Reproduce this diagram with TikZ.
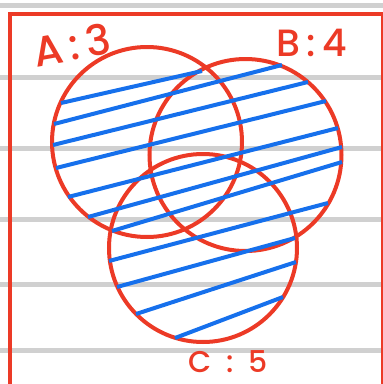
\documentclass[tikz,border=0pt]{standalone}
\usepackage{fontspec}
\newfontfamily\handfont{Poppins}[BoldFont={Poppins Medium}]
\usetikzlibrary{positioning}
\definecolor{penred}{RGB}{236,58,38}
\definecolor{penblue}{RGB}{22,112,236}
\definecolor{ruled}{RGB}{208,208,208}

\begin{document}
\begin{tikzpicture}[x=1pt, y=-1pt,
    setcircle/.style={circle, draw=penred, line width=4pt, minimum size=#1, inner sep=0pt},
    hatch/.style={draw=penblue, line width=4pt},
    ruleline/.style={draw=ruled, line width=5pt},
    setlabel/.style={text=penred, inner sep=0pt, font=\handfont\bfseries\fontsize{#1}{#1}\selectfont}]
    \useasboundingbox (0,0) rectangle (383,384);
    \clip (0,0) rectangle (383,384);

    % Ruled paper
    \foreach \y in {5,77,148,219,284,350}
        \draw[ruleline] (0,\y) -- (383,\y);

    % Frame
    \draw[penred, line width=4pt] (10,14) rectangle (383,400);

    % Sets
    \node[setcircle=190pt] (A) at (147,142) {};
    \node[setcircle=192pt] (B) at (245.5,155) {};
    \node[setcircle=188pt] (C) at (203,248) {};

    % Hatching over the union
    \foreach \xa/\ya/\xb/\yb in {61/103/202/71, 54/124/282/65, 53/145/308/82,
        56/168/326/101, 68/197/338/128, 88/217/342/147, 112/231/342/162,
        109/261/328/203, 117/287/295/238, 136/314/296/262, 175/338/283/297}
        \draw[hatch] (\xa,\ya) -- (\xb,\yb);

    % Labels
    \node[setlabel=42, rotate=10] (labA) at (72,45) {A\,:\,3};
    \node[setlabel=38] (labB) at (312,43) {B\,:\,4};
    \node[setlabel=30] (labC) at (228,362) {C\enspace:\enspace5};
\end{tikzpicture}
\end{document}
